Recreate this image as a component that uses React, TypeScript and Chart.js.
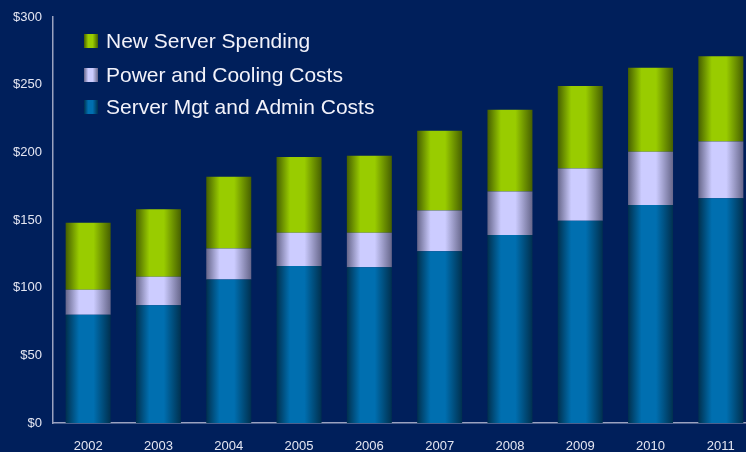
import React, { useEffect, useRef } from "react";
import { Chart, registerables } from "chart.js";

Chart.register(...registerables);

const YEARS = ["2002", "2003", "2004", "2005", "2006", "2007", "2008", "2009", "2010", "2011"];
const SERVER_MGT = [80, 87, 106, 116, 115, 127, 139, 149.5, 161, 166];
const POWER_COOLING = [18.5, 21, 23, 24.5, 25.5, 30, 32, 38.5, 39.5, 42];
const NEW_SERVER = [49.5, 50, 53, 56, 57, 59, 60.5, 61, 62, 63];
const Y_TICKS = [0, 50, 100, 150, 200, 250, 300];

const BG = "#001f5b";
const FONT = "'Liberation Sans', Arial, sans-serif";
const BAR_PCT = 0.64;
const AXIS_COLOR = "#9aa2c0";

const PALETTE = {
  green: { dark: "#465f00", bright: "#99cc00" },
  lav: { dark: "#66668a", bright: "#ccccff" },
  blue: { dark: "#00304f", bright: "#006fb0" },
};

function hGrad(ctx: CanvasRenderingContext2D, left: number, right: number, dark: string, bright: string) {
  const g = ctx.createLinearGradient(left, 0, right, 0);
  g.addColorStop(0, dark);
  g.addColorStop(0.3, bright);
  g.addColorStop(0.62, bright);
  g.addColorStop(1, dark);
  return g;
}

function scriptedFill(p: { dark: string; bright: string }) {
  return (c: any) => {
    const chart = c.chart;
    const xs = chart.scales && chart.scales.x;
    if (!xs || c.type !== "data" || !chart.chartArea) return p.bright;
    const center = xs.getPixelForValue(c.dataIndex);
    const w = (xs.width / YEARS.length) * BAR_PCT;
    return hGrad(chart.ctx, center - w / 2, center + w / 2, p.dark, p.bright);
  };
}

const LEGEND = [
  { label: "New Server Spending", p: PALETTE.green, y: 41 },
  { label: "Power and Cooling Costs", p: PALETTE.lav, y: 75 },
  { label: "Server Mgt and Admin Costs", p: PALETTE.blue, y: 107 },
];

const legendPlugin = {
  id: "customLegend",
  afterDraw(chart: any) {
    const ctx = chart.ctx as CanvasRenderingContext2D;
    ctx.save();
    LEGEND.forEach((item) => {
      const x = 84;
      const s = 14;
      ctx.fillStyle = hGrad(ctx, x, x + s, item.p.dark, item.p.bright);
      ctx.fillRect(x, item.y - s / 2, s, s);
      ctx.fillStyle = "#f2f2fa";
      ctx.font = `21px ${FONT}`;
      ctx.textBaseline = "middle";
      ctx.textAlign = "left";
      ctx.fillText(item.label, 106, item.y + 1);
    });
    ctx.restore();
  },
};

export default function App() {
  const ref = useRef<HTMLCanvasElement | null>(null);

  useEffect(() => {
    document.body.style.background = BG;
    const canvas = ref.current!;
    const chart = new Chart(canvas, {
      type: "bar",
      data: {
        labels: YEARS,
        datasets: [
          {
            label: "Server Mgt and Admin Costs",
            data: SERVER_MGT,
            backgroundColor: scriptedFill(PALETTE.blue),
            borderWidth: 0,
            categoryPercentage: 1,
            barPercentage: BAR_PCT,
          },
          {
            label: "Power and Cooling Costs",
            data: POWER_COOLING,
            backgroundColor: scriptedFill(PALETTE.lav),
            borderWidth: 0,
            categoryPercentage: 1,
            barPercentage: BAR_PCT,
          },
          {
            label: "New Server Spending",
            data: NEW_SERVER,
            backgroundColor: scriptedFill(PALETTE.green),
            borderWidth: 0,
            categoryPercentage: 1,
            barPercentage: BAR_PCT,
          },
        ],
      },
      options: {
        responsive: false,
        animation: false,
        layout: { padding: { top: 17, right: 4, left: 0, bottom: 0 } },
        plugins: {
          legend: { display: false },
          tooltip: { enabled: false },
        },
        scales: {
          x: {
            stacked: true,
            grid: { display: false, drawTicks: true, tickLength: 8 },
            border: { display: true, color: AXIS_COLOR, width: 1.5 },
            ticks: {
              color: "#e4e6f2",
              font: { family: FONT, size: 13 },
              padding: 8,
              maxRotation: 0,
            },
            afterFit: (s: any) => {
              s.height = 29;
            },
          },
          y: {
            stacked: true,
            min: 0,
            max: 300,
            afterBuildTicks: (s: any) => {
              s.ticks = Y_TICKS.map((v) => ({ value: v }));
            },
            grid: { display: false, drawTicks: true, tickLength: 8 },
            border: { display: true, color: AXIS_COLOR, width: 1.5 },
            ticks: {
              color: "#e4e6f2",
              font: { family: FONT, size: 13 },
              padding: 3,
              callback: (v: any) => "$" + v,
            },
            afterFit: (s: any) => {
              s.width = 53;
            },
          },
        },
      },
      plugins: [legendPlugin],
    });
    return () => chart.destroy();
  }, []);

  return (
    <div
      style={{
        position: "fixed",
        left: 0,
        top: 0,
        width: 746,
        height: 452,
        overflow: "hidden",
        background: BG,
      }}
    >
      <canvas ref={ref} width={760} height={452} style={{ display: "block", width: 760, height: 452 }} />
    </div>
  );
}
